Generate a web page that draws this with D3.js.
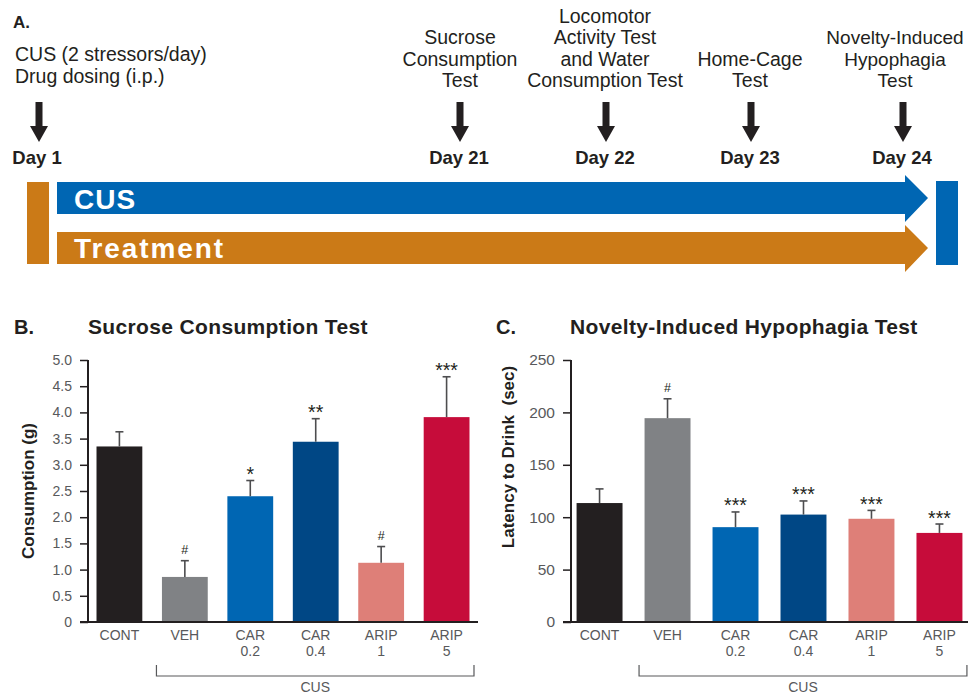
<!DOCTYPE html>
<html>
<head>
<meta charset="utf-8">
<script src="https://cdn.jsdelivr.net/npm/d3@7"></script>
<style>
  html, body { margin: 0; padding: 0; background: #fff; }
  svg { display: block; }
  text { font-family: "Liberation Sans", Arial, Helvetica, sans-serif; }
</style>
</head>
<body>
<svg id="chart" width="968" height="695"></svg>
<script>
// ---------- DATA ----------
const categories = ["CONT", "VEH", "CAR 0.2", "CAR 0.4", "ARIP 1", "ARIP 5"];
const barColors = ["#231f20", "#808285", "#0066b3", "#004785", "#de7f78", "#c60c3a"];

const sucroseMean = [3.35, 0.86, 2.40, 3.44, 1.13, 3.91];
const sucroseErr  = [0.28, 0.31, 0.30, 0.44, 0.31, 0.77];
const sucroseSig  = ["", "#", "*", "**", "#", "***"];
const sucroseTicks = [0, 0.5, 1.0, 1.5, 2.0, 2.5, 3.0, 3.5, 4.0, 4.5, 5.0];

const nihMean = [113.5, 194.5, 90.5, 102.5, 98.5, 85];
const nihErr  = [13.5, 18.5, 14.5, 13.0, 8.0, 8.5];
const nihSig  = ["", "#", "***", "***", "***", "***"];
const nihTicks = [0, 50, 100, 150, 200, 250];

const timelineDays  = [1, 21, 22, 23, 24];
const timelineTexts = [
  ["CUS (2 stressors/day)", "Drug dosing (i.p.)"],
  ["Sucrose", "Consumption", "Test"],
  ["Locomotor", "Activity Test", "and Water", "Consumption Test"],
  ["Home-Cage", "Test"],
  ["Novelty-Induced", "Hypophagia", "Test"]
];

// ---------- DRAW ----------
const svg = d3.select("#chart");
const ORANGE = "#cb7a17", BLUE = "#0066b3";

// Panel A
svg.append("text").attr("x", 13).attr("y", 28).attr("font-size", 17).attr("font-weight", "bold")
  .attr("fill", "#231f20").text("A.");

const dayX = d3.scaleLinear().domain([1, 21, 22, 23, 24]).range([39, 460, 606, 751, 903]);
const textX = d3.scaleLinear().domain([1, 21, 22, 23, 24]).range([15, 460, 605, 750, 895]);

timelineDays.forEach((d, i) => {
  const cx = dayX(d);
  const tx = textX(d);
  const lines = timelineTexts[i];
  const g = svg.append("g");
  if (i === 0) {
    lines.forEach((t, j) => {
      g.append("text").attr("x", tx).attr("y", 61 + j * 21.5).attr("font-size", 19.5)
        .attr("fill", "#231f20").text(t);
    });
  } else {
    const n = lines.length;
    lines.forEach((t, j) => {
      g.append("text").attr("x", tx).attr("y", 87 - (n - 1 - j) * 21.5)
        .attr("font-size", i === 4 ? 19 : 19.5)
        .attr("text-anchor", "middle").attr("fill", "#231f20").text(t);
    });
  }
  // down arrow
  g.append("path")
    .attr("d", `M${cx-3.5},102 L${cx+3.5},102 L${cx+3.5},126 L${cx+9},126 L${cx},142 L${cx-9},126 L${cx-3.5},126 Z`)
    .attr("fill", "#231f20");
  g.append("text").attr("x", i === 0 ? 37 : cx - 1).attr("y", 164).attr("font-size", 18.5)
    .attr("font-weight", "bold").attr("text-anchor", "middle").attr("fill", "#231f20")
    .text("Day " + d);
});

// timeline bars
svg.append("rect").attr("x", 27).attr("y", 182).attr("width", 22).attr("height", 82).attr("fill", ORANGE);
svg.append("rect").attr("x", 936).attr("y", 181).attr("width", 22).attr("height", 84).attr("fill", BLUE);
svg.append("path").attr("d", "M57,182 L905,182 L905,175 L928,198 L905,222 L905,214 L57,214 Z").attr("fill", BLUE);
svg.append("path").attr("d", "M57,232 L905,232 L905,225 L928,248 L905,272 L905,264 L57,264 Z").attr("fill", ORANGE);
svg.append("text").attr("x", 74).attr("y", 209).attr("font-size", 28).attr("font-weight", "bold")
  .attr("fill", "#fff").attr("letter-spacing", 1).text("CUS");
svg.append("text").attr("x", 74).attr("y", 258).attr("font-size", 28).attr("font-weight", "bold")
  .attr("fill", "#fff").attr("letter-spacing", 1.9).text("Treatment");

// bar panels
function panel(opts) {
  const { letterX, titleX, title, yLabel, yLabelX, yLabelY, means, errs, sigs, ticks, yMax,
          xRange, padIn, padOut, tickFont, tickFmt } = opts;
  const y0 = 622, yTop = 360;
  const axisX = xRange[0];
  const y = d3.scaleLinear().domain([0, yMax]).range([y0, yTop]);
  const x = d3.scaleBand().domain(categories).range(xRange).paddingInner(padIn).paddingOuter(padOut);
  const g = svg.append("g");

  g.append("text").attr("x", letterX).attr("y", 334).attr("font-size", 20).attr("font-weight", "bold")
    .attr("fill", "#231f20").text(title[0]);
  g.append("text").attr("x", titleX).attr("y", 334).attr("font-size", 21).attr("font-weight", "bold")
    .attr("letter-spacing", 0.35).attr("fill", "#231f20").text(title[1]);

  // bars
  g.selectAll("rect.bar").data(means).join("rect").attr("class", "bar")
    .attr("x", (d, i) => x(categories[i])).attr("width", x.bandwidth())
    .attr("y", d => y(d)).attr("height", d => y0 - y(d))
    .attr("fill", (d, i) => barColors[i]);

  // error bars
  means.forEach((m, i) => {
    const cx = x(categories[i]) + x.bandwidth() / 2;
    const top = y(m + errs[i]);
    g.append("line").attr("x1", cx).attr("x2", cx).attr("y1", y(m)).attr("y2", top)
      .attr("stroke", "#4d4d4f").attr("stroke-width", 1.6);
    g.append("line").attr("x1", cx - 4).attr("x2", cx + 4).attr("y1", top).attr("y2", top)
      .attr("stroke", "#4d4d4f").attr("stroke-width", 1.6);
    const s = sigs[i];
    if (s) {
      if (s === "#") {
        g.append("text").attr("x", cx).attr("y", top - 6.5).attr("font-size", 12.5)
          .attr("text-anchor", "middle").attr("fill", "#231f20").text(s);
      } else {
        g.append("text").attr("x", cx).attr("y", top + 0.5).attr("font-size", 19.5)
          .attr("text-anchor", "middle").attr("fill", "#231f20").text(s);
      }
    }
  });

  // y axis
  const ya = d3.axisLeft(y).tickValues(ticks).tickSize(8).tickPadding(8).tickFormat(tickFmt);
  const yg = g.append("g").attr("transform", `translate(${axisX},0)`).call(ya);
  yg.select(".domain").attr("stroke", "#231f20").attr("stroke-width", 2).attr("d", `M0,${yTop}V${y0}`);
  yg.selectAll(".tick line").attr("stroke", "#231f20").attr("stroke-width", 1.5);
  yg.selectAll(".tick text").attr("font-size", tickFont).attr("fill", "#58595b")
    .attr("font-family", "'Liberation Sans', Arial, sans-serif");

  // x axis line
  g.append("line").attr("x1", axisX - 8).attr("x2", xRange[1]).attr("y1", y0).attr("y2", y0)
    .attr("stroke", "#231f20").attr("stroke-width", 2);

  // category labels
  categories.forEach((c, i) => {
    const cx = x(c) + x.bandwidth() / 2;
    const parts = c.split(" ");
    parts.forEach((p, j) => {
      g.append("text").attr("x", cx).attr("y", 640 + j * 16).attr("font-size", 14)
        .attr("text-anchor", "middle").attr("fill", "#58595b").text(p);
    });
  });

  // CUS bracket
  const bx1 = x(categories[1]) - 5.5, bx2 = x(categories[5]) + x.bandwidth() + 4.5;
  g.append("path").attr("d", `M${bx1},665 V676 H${bx2} V665`).attr("fill", "none")
    .attr("stroke", "#58595b").attr("stroke-width", 1.2);
  g.append("text").attr("x", (bx1 + bx2) / 2).attr("y", 692).attr("font-size", 14)
    .attr("text-anchor", "middle").attr("fill", "#58595b").text("CUS");

  // y label
  g.append("text").attr("transform", `translate(${yLabelX},${yLabelY}) rotate(-90)`)
    .attr("font-size", 17).attr("font-weight", "bold").attr("text-anchor", "middle")
    .attr("fill", "#231f20").attr("xml:space", "preserve").text(yLabel);
}

panel({
  letterX: 14, titleX: 88, title: ["B.", "Sucrose Consumption Test"],
  yLabel: "Consumption (g)", yLabelX: 34, yLabelY: 491,
  means: sucroseMean, errs: sucroseErr, sigs: sucroseSig, ticks: sucroseTicks, yMax: 5,
  xRange: [88, 478], padIn: 0.3, padOut: 0.13, tickFont: 14,
  tickFmt: d => d === 0 ? "0" : d3.format(".1f")(d)
});

panel({
  letterX: 496, titleX: 570, title: ["C.", "Novelty-Induced Hypophagia Test"],
  yLabel: "Latency to Drink  (sec)", yLabelX: 514, yLabelY: 457,
  means: nihMean, errs: nihErr, sigs: nihSig, ticks: nihTicks, yMax: 250,
  xRange: [571, 968], padIn: 0.324, padOut: 0.082, tickFont: 15.5,
  tickFmt: d => String(d)
});
</script>
</body>
</html>
